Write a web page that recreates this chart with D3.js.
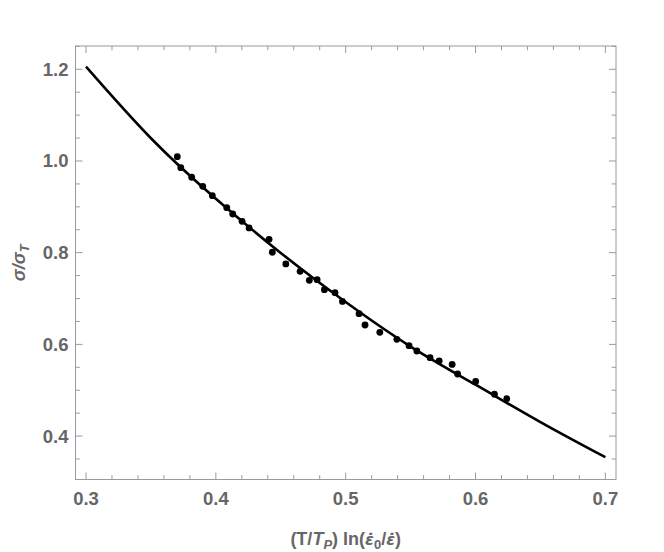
<!DOCTYPE html>
<html><head><meta charset="utf-8">
<script src="https://cdn.jsdelivr.net/npm/d3@7"></script>
<style>body{margin:0;background:#fff}svg{display:block}</style>
</head><body>
<svg id="c" width="664" height="552"></svg>
<script>
// measured data points (x, sigma/sigma_T)
const dataX = [0.3703,0.3730,0.3814,0.3899,0.3973,0.4084,0.4130,0.4202,0.4256,0.4410,0.4435,0.4539,0.4649,0.4720,0.4780,0.4836,0.4918,0.4975,0.5103,0.5149,0.5263,0.5394,0.5488,0.5548,0.5650,0.5720,0.5820,0.5862,0.6001,0.6146,0.6241];
const dataY = [1.0094,0.9854,0.9645,0.9448,0.9243,0.8981,0.8844,0.8685,0.8539,0.8292,0.8009,0.7754,0.7594,0.7398,0.7411,0.7193,0.7128,0.6936,0.6670,0.6423,0.6264,0.6111,0.5972,0.5856,0.5710,0.5638,0.5562,0.5354,0.5191,0.4912,0.4816];
// fitted curve
const curveX = [0.30,0.35,0.40,0.45,0.50,0.55,0.60,0.65,0.70];
const curveY = [1.2057,1.0496,0.9175,0.7994,0.6923,0.5952,0.5120,0.4305,0.3539];
const xMajor = [0.3,0.4,0.5,0.6,0.7];
const xLabels = ["0.3","0.4","0.5","0.6","0.7"];
const yMajor = [0.4,0.6,0.8,1.0,1.2];
const yLabels = ["0.4","0.6","0.8","1.0","1.2"];

const svg = d3.select("#c");
const L=75.5, R=616, T=46, B=479.5;
const x = d3.scaleLinear().domain([0.2919,0.7082]).range([L,R]);
const y = d3.scaleLinear().domain([0.3053,1.2508]).range([B,T]);
const frameCol="#9a9a9a", labCol="#666666";

const xMinor = d3.range(0.30,0.7001,0.02).filter(v=>Math.abs(v*10-Math.round(v*10))>1e-6);
const yMinor = d3.range(0.35,1.2501,0.05).filter(v=>Math.abs(v*5-Math.round(v*5))>1e-6);

const g = svg.append("g");
function ticks(vals, len){
  vals.forEach(v=>{
    const px=x(v);
    g.append("line").attr("x1",px).attr("x2",px).attr("y1",B).attr("y2",B-len).attr("stroke",frameCol).attr("stroke-width",1);
    g.append("line").attr("x1",px).attr("x2",px).attr("y1",T).attr("y2",T+len).attr("stroke",frameCol).attr("stroke-width",1);
  });
}
function yticks(vals,len){
  vals.forEach(v=>{
    const py=y(v);
    g.append("line").attr("x1",L).attr("x2",L+len).attr("y1",py).attr("y2",py).attr("stroke",frameCol).attr("stroke-width",1);
    g.append("line").attr("x1",R).attr("x2",R-len).attr("y1",py).attr("y2",py).attr("stroke",frameCol).attr("stroke-width",1);
  });
}
ticks(xMajor,7); ticks(xMinor,4.3);
yticks(yMajor,7); yticks(yMinor,4.3);
g.append("rect").attr("x",L).attr("y",T).attr("width",R-L).attr("height",B-T).attr("fill","none").attr("stroke",frameCol).attr("stroke-width",1);

const font="'Liberation Sans', Arial, sans-serif";
xMajor.forEach((v,i)=>{
  g.append("text").attr("x",x(v)).attr("y",505).attr("text-anchor","middle")
   .attr("font-family",font).attr("font-weight","bold").attr("font-size",18.5).attr("fill",labCol).text(xLabels[i]);
});
yMajor.forEach((v,i)=>{
  g.append("text").attr("x",68.5).attr("y",y(v)+6.5).attr("text-anchor","end")
   .attr("font-family",font).attr("font-weight","bold").attr("font-size",18.5).attr("fill",labCol).text(yLabels[i]);
});

// curve
const line = d3.line().x(d=>x(d[0])).y(d=>y(d[1])).curve(d3.curveNatural);
svg.append("path").datum(curveX.map((v,i)=>[v,curveY[i]])).attr("d",line)
  .attr("fill","none").attr("stroke","#000").attr("stroke-width",2.6);

// points
svg.append("g").selectAll("circle").data(dataX.map((v,i)=>[v,dataY[i]])).join("circle")
  .attr("cx",d=>x(d[0])).attr("cy",d=>y(d[1])).attr("r",3.4).attr("fill","#000");

// axis labels
const eps = "'DejaVu Sans', sans-serif";
const xl = svg.append("text").attr("x",(L+R)/2).attr("y",545).attr("text-anchor","middle")
  .attr("font-family",font).attr("font-weight","bold").attr("font-size",18).attr("fill",labCol);
xl.append("tspan").text("(T/");
xl.append("tspan").attr("font-style","italic").text("T");
xl.append("tspan").attr("font-style","italic").attr("font-size",13).attr("dy",4).text("P");
xl.append("tspan").attr("dy",-4).text(") ln(");
xl.append("tspan").attr("font-family",eps).attr("font-style","italic").attr("font-size",16).text("\u03B5\u0307");
xl.append("tspan").attr("font-size",13).attr("dy",4).text("0");
xl.append("tspan").attr("dy",-4).text("/");
xl.append("tspan").attr("font-family",eps).attr("font-style","italic").attr("font-size",16).text("\u03B5\u0307");
xl.append("tspan").text(")");

const yl = svg.append("text").attr("transform",`translate(25,${(T+B)/2}) rotate(-90)`).attr("text-anchor","middle")
  .attr("font-family",font).attr("font-weight","bold").attr("font-size",18).attr("fill",labCol);
yl.append("tspan").attr("font-style","italic").text("\u03C3/\u03C3");
yl.append("tspan").attr("font-style","italic").attr("font-size",13).attr("dy",4).text("T");
</script>
</body></html>
